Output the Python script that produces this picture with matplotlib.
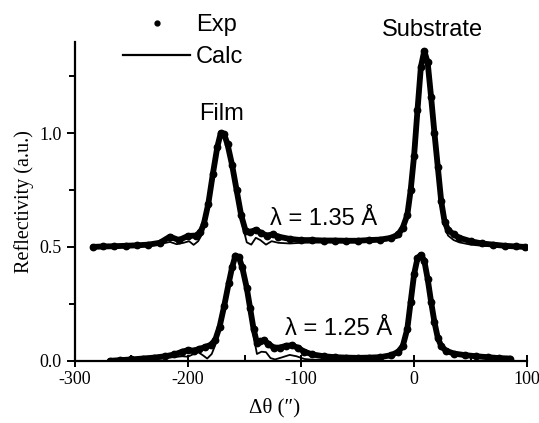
import matplotlib
matplotlib.use('Agg')
import matplotlib.pyplot as plt
from matplotlib.lines import Line2D
from matplotlib.ticker import MultipleLocator, FormatStrFormatter

plt.rcParams['axes.unicode_minus'] = False

# lambda = 1.35 A (offset by 0.5) - experiment
x_exp_135 = [-284, -275, -265, -255, -245, -235, -225, -216, -208, -200, -193, -189, -186,
             -182, -178, -174, -171, -168, -165, -161, -157, -153, -149, -145, -140,
             -135, -130, -125, -120, -110, -100, -90, -80, -70, -60, -50, -40, -30,
             -20, -14, -10, -6, -3, 0, 3, 6, 9, 12, 15, 18, 21, 24, 27, 30, 35, 40,
             50, 60, 70, 80, 90, 98]
y_exp_135 = [0.500, 0.502, 0.503, 0.505, 0.507, 0.510, 0.518, 0.545, 0.530, 0.548, 0.550,
             0.565, 0.600, 0.690, 0.820, 0.940, 1.000, 0.995, 0.950, 0.860, 0.750,
             0.640, 0.570, 0.565, 0.575, 0.560, 0.550, 0.555, 0.545, 0.535, 0.530,
             0.530, 0.528, 0.528, 0.527, 0.527, 0.530, 0.532, 0.540, 0.555, 0.585,
             0.640, 0.750, 0.900, 1.100, 1.290, 1.360, 1.310, 1.160, 1.000, 0.850,
             0.700, 0.610, 0.575, 0.555, 0.540, 0.525, 0.515, 0.510, 0.505, 0.502,
             0.500]

# lambda = 1.35 A - calculation
x_calc_135 = [-284, -260, -240, -225, -216, -210, -204, -199, -195, -191, -187, -184,
              -180, -176, -173, -170, -167, -164, -160, -156, -152, -148, -144, -140,
              -136, -131, -126, -120, -110, -100, -80, -60, -40, -25, -15, -10, -6,
              -3, 0, 3, 6, 9, 12, 15, 18, 21, 24, 27, 30, 35, 40, 50, 60, 80, 98]
y_calc_135 = [0.500, 0.502, 0.506, 0.512, 0.522, 0.512, 0.518, 0.525, 0.509, 0.525,
              0.560, 0.620, 0.750, 0.880, 0.970, 1.010, 0.990, 0.930, 0.830, 0.710,
              0.600, 0.520, 0.510, 0.540, 0.530, 0.510, 0.525, 0.518, 0.515, 0.518,
              0.520, 0.520, 0.522, 0.528, 0.540, 0.570, 0.630, 0.740, 0.900, 1.100,
              1.290, 1.360, 1.300, 1.150, 0.980, 0.820, 0.680, 0.590, 0.550, 0.530,
              0.520, 0.510, 0.505, 0.502, 0.500]

# lambda = 1.25 A - experiment
x_exp_125 = [-269, -260, -250, -240, -230, -220, -212, -205, -200, -195, -190, -185,
             -180, -176, -172, -168, -164, -161, -158, -155, -152, -148, -145, -142,
             -139, -136, -133, -129, -124, -119, -113, -108, -103, -97, -90, -80, -70,
             -60, -50, -40, -30, -20, -14, -10, -6, -3, 0, 3, 6, 9, 12, 15, 18, 21, 24,
             28, 35, 45, 55, 65, 75, 85]
y_exp_125 = [0.000, 0.003, 0.006, 0.010, 0.014, 0.020, 0.028, 0.040, 0.047, 0.045,
             0.052, 0.060, 0.070, 0.090, 0.150, 0.240, 0.340, 0.410, 0.462, 0.455,
             0.410, 0.320, 0.230, 0.140, 0.080, 0.085, 0.090, 0.075, 0.058, 0.058,
             0.066, 0.068, 0.058, 0.040, 0.028, 0.020, 0.016, 0.014, 0.013, 0.014,
             0.016, 0.025, 0.040, 0.065, 0.140, 0.260, 0.380, 0.450, 0.465, 0.440,
             0.360, 0.260, 0.170, 0.100, 0.065, 0.045, 0.032, 0.025, 0.020, 0.016,
             0.012, 0.010]

# lambda = 1.25 A - calculation
x_calc_125 = [-269, -250, -230, -215, -205, -200, -195, -191, -187, -183, -179, -175,
              -171, -167, -163, -160, -157, -154, -150, -146, -142, -139, -135, -131,
              -127, -123, -117, -110, -104, -97, -90, -70, -50, -30, -20, -14, -10,
              -6, -3, 0, 3, 6, 9, 12, 15, 18, 21, 24, 28, 35, 50, 65, 85]
y_calc_125 = [0.000, 0.003, 0.008, 0.015, 0.020, 0.018, 0.030, 0.038, 0.025, 0.010,
              0.030, 0.080, 0.170, 0.270, 0.370, 0.440, 0.466, 0.440, 0.360, 0.240,
              0.110, 0.030, 0.040, 0.038, 0.012, 0.006, 0.015, 0.026, 0.020, 0.008,
              0.005, 0.006, 0.008, 0.012, 0.020, 0.035, 0.060, 0.130, 0.250, 0.370,
              0.445, 0.466, 0.440, 0.360, 0.255, 0.160, 0.090, 0.055, 0.038, 0.026,
              0.015, 0.010, 0.008]

serif = 'Liberation Serif'
sans = 'Liberation Sans'

fig = plt.figure(figsize=(5.39, 4.23), dpi=100)
ax = fig.add_axes([0.139, 0.147, 0.839, 0.754])

# experimental points: thick band of dots
for xe, ye in [(x_exp_135, y_exp_135), (x_exp_125, y_exp_125)]:
    ax.plot(xe, ye, color='black', lw=4.2, solid_capstyle='round', solid_joinstyle='round')
    ax.plot(xe, ye, 'o', color='black', ms=4.6)
# calculated curves
for xc, yc in [(x_calc_135, y_calc_135), (x_calc_125, y_calc_125)]:
    ax.plot(xc, yc, color='black', lw=1.3)

ax.set_xlim(-300, 100)
ax.set_ylim(0, 1.4)
ax.xaxis.set_major_locator(MultipleLocator(100))
ax.xaxis.set_minor_locator(MultipleLocator(50))
ax.yaxis.set_major_locator(MultipleLocator(0.5))
ax.yaxis.set_minor_locator(MultipleLocator(0.25))
ax.yaxis.set_major_formatter(FormatStrFormatter('%.1f'))
ax.spines['top'].set_visible(False)
ax.spines['right'].set_visible(False)
for s in ['left', 'bottom']:
    ax.spines[s].set_linewidth(1.6)
ax.tick_params(axis='x', which='major', direction='inout', length=8, width=1.4)
ax.tick_params(axis='x', which='minor', direction='in', length=4, width=1.4)
ax.tick_params(axis='y', which='both', direction='out', width=1.4)
ax.tick_params(axis='y', which='major', length=6)
ax.tick_params(axis='y', which='minor', length=4)
for lab in ax.get_xticklabels() + ax.get_yticklabels():
    lab.set_fontfamily(serif)
    lab.set_fontsize(13)

ax.set_xlabel('Δθ (″)', fontfamily=serif, fontsize=15)
ax.xaxis.set_label_coords(0.442, -0.115)
ax.set_ylabel('Reflectivity (a.u.)', fontfamily=serif, fontsize=14.5, labelpad=4)

ax.text(-170, 1.085, 'Film', fontfamily=sans, fontsize=17, ha='center', va='center')
ax.text(16, 1.45, 'Substrate', fontfamily=sans, fontsize=17, ha='center', va='center',
        clip_on=False)
ax.text(-80, 0.621, 'λ = 1.35 Å', fontfamily=sans, fontsize=17, ha='center', va='center')
ax.text(-67, 0.139, 'λ = 1.25 Å', fontfamily=sans, fontsize=17, ha='center', va='center')

handles = [Line2D([], [], marker='o', ls='none', color='black', ms=3.5),
           Line2D([], [], color='black', lw=1.6)]
ax.legend(handles, ['Exp', 'Calc'], loc='upper left', bbox_to_anchor=(123 / 539, 1 - 14 / 423),
          bbox_transform=fig.transFigure, frameon=False, borderaxespad=0, borderpad=0,
          handlelength=2.84, handletextpad=0.25, labelspacing=0.42,
          prop={'family': sans, 'size': 17})

fig.savefig('out.png', dpi=100)
